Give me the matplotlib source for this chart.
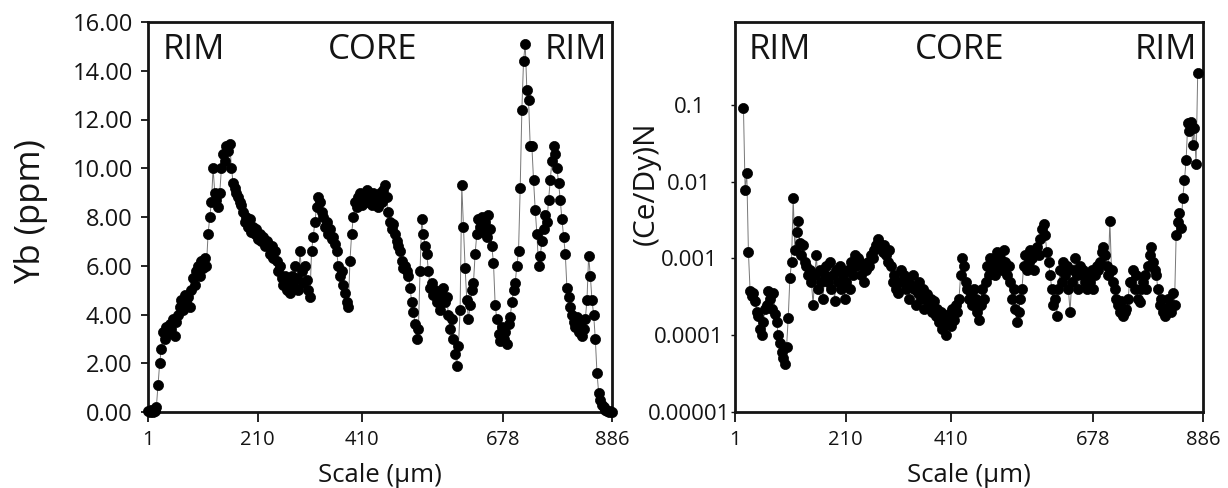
import numpy as np
import matplotlib
matplotlib.use("Agg")
import matplotlib.pyplot as plt
from matplotlib.ticker import FixedLocator, FixedFormatter, NullLocator

plt.rcParams['font.family'] = ['Open Sans', 'DejaVu Sans']

# ---------------- data ----------------
x_ticks = [1, 210, 410, 678, 886]
x_ticklabels = ['1', '210', '410', '678', '886']

yb_ticks = [0, 2, 4, 6, 8, 10, 12, 14, 16]
yb_ticklabels = ['0.00', '2.00', '4.00', '6.00', '8.00', '10.00', '12.00', '14.00', '16.00']

ratio_ticks = [1e-5, 1e-4, 1e-3, 1e-2, 1e-1]
ratio_ticklabels = ['0.00001', '0.0001', '0.001', '0.01', '0.1']

zone_labels = ['RIM', 'CORE', 'RIM']

# Yb (ppm) along the traverse (evenly spaced spots, 1 -> 886 um)
yb_start_um, yb_end_um = 1, 886
yb = [
    0.05, 0.0, 0.08, 0.0, 0.05, 0.2,
    1.1, 2.0, 2.6,
    3.3, 3.0, 3.5, 3.2, 3.6, 3.4, 3.8, 3.1, 3.7,
    4.0, 4.3, 4.6, 4.2, 4.8, 4.5, 4.7, 4.3,
    5.0, 5.5, 5.2, 5.8, 6.0, 5.6, 6.2, 5.9, 6.3,
    6.0, 7.3, 8.0, 8.6,
    10.0, 9.0, 8.7, 8.4, 9.0,
    10.0, 10.6, 10.3, 10.9, 10.7, 11.0,
    10.0, 9.4, 9.2, 9.0, 8.8, 8.6,
    8.5, 8.2, 7.8, 8.0, 7.6, 7.9, 7.4, 7.6, 7.3,
    7.5, 7.1, 7.3, 7.0, 7.2, 6.8, 7.0,
    6.9, 6.5, 6.8, 6.3, 6.6, 6.2,
    5.8, 6.0, 5.5, 5.2, 5.6, 5.0, 5.4, 4.9,
    5.6, 5.2, 6.0, 5.5, 5.0, 6.6, 5.8, 5.3, 6.0, 5.4, 5.0, 4.7,
    6.6, 7.2, 7.8, 8.4, 8.8, 8.6, 8.2,
    8.0, 7.6, 7.8, 7.3, 7.5, 7.1, 7.2, 6.9,
    6.6, 6.0, 5.6, 5.8, 5.2, 4.9, 4.5, 4.3,
    6.2, 7.3, 8.0,
    8.6, 8.4, 8.8, 9.0, 8.5, 8.9, 8.7, 9.1, 8.6, 8.9, 8.5, 9.0, 8.7, 8.8, 8.4, 9.0, 8.6, 9.1, 9.3,
    8.8, 8.2, 7.8, 7.5, 7.7, 7.3, 7.0, 6.8, 6.6,
    6.2, 5.9, 6.0, 5.8, 5.6,
    5.1, 4.5, 4.1, 3.6, 3.0, 3.4,
    5.8, 7.9, 7.3, 6.8, 6.5, 5.8,
    5.1, 5.3, 4.8, 5.0, 4.5, 4.6, 4.2, 4.8,
    5.1, 4.5, 4.7, 4.0, 3.4, 3.8, 3.0, 2.4,
    1.9, 2.7, 4.2, 9.3,
    7.6, 5.9, 4.6, 3.8, 4.4, 5.0,
    5.3, 6.5, 7.3, 7.9, 7.6, 8.0, 7.4, 7.8, 7.2, 8.1, 7.5,
    6.8, 6.1, 4.4,
    3.8, 3.2, 2.9, 3.5, 3.0, 3.3, 2.8, 3.6,
    3.9, 4.5, 5.0, 5.3, 6.0, 6.6,
    9.2, 12.4, 14.4, 15.1, 13.2, 12.8,
    10.9, 10.9, 9.5, 8.3, 7.3, 6.0,
    6.4, 7.0, 7.5, 8.1, 7.8, 8.7,
    9.5, 10.3, 10.9, 10.6, 10.0,
    9.4, 8.7, 7.9, 7.2,
    6.5, 5.1, 4.7, 4.3,
    4.0, 3.7, 3.5, 3.9, 3.3, 3.6, 3.1, 3.4, 3.8,
    4.6, 6.4, 5.6, 4.6,
    4.0, 3.0, 1.6, 0.8, 0.5,
    0.3, 0.2, 0.1, 0.05, 0.0, 0.05, 0.0,
]

# (Ce/Dy)N along the traverse (evenly spaced spots, 17 -> 876 um)
ratio_start_um, ratio_end_um = 17, 876
ce_dy = [
    0.09, 0.0078, 0.013, 0.0012, 0.00038,
    0.00032, 0.00036, 0.00028, 0.0002, 0.00018,
    0.00012, 0.0001, 0.00015, 0.00022,
    0.00025, 0.00038, 0.0003, 0.00022, 0.00035, 0.00019,
    0.00015, 0.0001, 0.00008, 0.00006, 0.00005, 0.000042, 0.00007,
    0.00017, 0.00055, 0.0009,
    0.0062, 0.0013, 0.0022, 0.0031, 0.0016, 0.0011,
    0.0015, 0.0009, 0.0008, 0.0006, 0.0007, 0.0005, 0.00025, 0.0006, 0.0011, 0.0004, 0.0007, 0.0005, 0.0003, 0.0006,
    0.0008, 0.0005, 0.0009, 0.0004, 0.0006, 0.00028, 0.0007, 0.0005, 0.0008, 0.0004,
    0.0006, 0.0003, 0.0005, 0.0007, 0.0004, 0.0009, 0.0006, 0.0011, 0.0008, 0.0010,
    0.0009, 0.0006, 0.0008, 0.0005, 0.0007, 0.0009, 0.0008, 0.0011, 0.0010, 0.0013, 0.0015,
    0.0018, 0.0016, 0.0014, 0.0012, 0.0015, 0.0011, 0.0009, 0.0013,
    0.0008, 0.0005, 0.0006, 0.0004, 0.00035, 0.0005, 0.0007, 0.0005,
    0.0006, 0.0004, 0.0005, 0.0003, 0.00045, 0.0006, 0.0004, 0.00025, 0.00035, 0.0005, 0.0003, 0.0004, 0.00022, 0.0003,
    0.00034, 0.00025, 0.0003, 0.0002, 0.00028, 0.00018, 0.00022, 0.00015, 0.0002, 0.00012,
    0.00017, 0.0001, 0.00014, 0.00019, 0.00013, 0.00022, 0.00016, 0.00025, 0.0002, 0.0003,
    0.0006, 0.001, 0.0008, 0.0005,
    0.0004, 0.0003, 0.00035, 0.00025, 0.0004, 0.0003, 0.0002, 0.00016, 0.00025, 0.0004, 0.0003, 0.0005,
    0.0008, 0.0006, 0.001, 0.0007, 0.0009, 0.0006, 0.0012, 0.0008, 0.001, 0.0007, 0.0013, 0.0009, 0.0006, 0.0008,
    0.0005, 0.0003, 0.0004, 0.00022, 0.00015, 0.0002, 0.0003, 0.0004,
    0.0008, 0.0011, 0.0007, 0.0009, 0.0013, 0.0010, 0.0007, 0.0012, 0.0014, 0.0011, 0.0018, 0.0024, 0.0028, 0.0020, 0.0012,
    0.0009, 0.0006, 0.0004, 0.00025, 0.0003, 0.00018, 0.0004, 0.0007, 0.0005,
    0.0009, 0.0006, 0.0008, 0.0004, 0.0002, 0.0005, 0.0007, 0.001, 0.0006, 0.0004, 0.0008, 0.0006,
    0.0007, 0.0005, 0.0004, 0.0006, 0.0005, 0.0007, 0.0004, 0.0006, 0.0008, 0.0007,
    0.0009, 0.0012, 0.0014, 0.0011, 0.0008, 0.0006,
    0.0031, 0.0007, 0.0005,
    0.0004, 0.0003, 0.00025, 0.0002, 0.00028, 0.00018, 0.0002, 0.00022, 0.0003, 0.0005,
    0.0005, 0.0007, 0.0004, 0.0006, 0.0003, 0.00027, 0.0004, 0.0005, 0.0006, 0.0004,
    0.0008, 0.0011, 0.0014, 0.0009, 0.0007, 0.0006,
    0.0004, 0.00025, 0.0003, 0.0002, 0.00018, 0.00022, 0.0003, 0.00025, 0.0002, 0.00035, 0.00025,
    0.002, 0.003, 0.0039,
    0.0025, 0.0062, 0.0104, 0.019,
    0.058, 0.045, 0.06, 0.03, 0.05, 0.017, 0.26,
]

x_yb = np.linspace(yb_start_um, yb_end_um, len(yb))
x_ratio = np.linspace(ratio_start_um, ratio_end_um, len(ce_dy))

# ---------------- figure ----------------
W, H = 1228, 488
INK = '#141414'
fig = plt.figure(figsize=(W / 100, H / 100), dpi=100)
ax1 = fig.add_axes([148 / W, 1 - 412 / H, 464 / W, 390 / H])
ax2 = fig.add_axes([735 / W, 1 - 412 / H, 468 / W, 390 / H])

line_kw = dict(color='#777777', lw=0.7, marker='o', ms=7.3,
               mfc='black', mec='black', mew=0.5, clip_on=False, zorder=3)

ax1.plot(x_yb, yb, **line_kw)
ax2.plot(x_ratio, ce_dy, **line_kw)

for ax in (ax1, ax2):
    ax.set_xlim(1, 886)
    for sp in ax.spines.values():
        sp.set_linewidth(2.0)
        sp.set_color(INK)
    ax.xaxis.set_major_locator(FixedLocator(x_ticks))
    ax.xaxis.set_major_formatter(FixedFormatter(x_ticklabels))
    ax.tick_params(axis='x', direction='out', length=7, width=1.3,
                   pad=6, labelsize=14.5, colors=INK)
    ax.set_xlabel('Scale (\u00b5m)', fontsize=18.5, labelpad=9, color=INK)

ax1.set_ylim(0, 16)
ax1.yaxis.set_major_locator(FixedLocator(yb_ticks))
ax1.yaxis.set_major_formatter(FixedFormatter(yb_ticklabels))
ax1.tick_params(axis='y', direction='out', length=5, width=1.3, pad=6,
                labelsize=17, colors=INK)

ax2.set_yscale('log')
ax2.set_ylim(1e-5, 1.2)
ax2.yaxis.set_major_locator(FixedLocator(ratio_ticks))
ax2.yaxis.set_major_formatter(FixedFormatter(ratio_ticklabels))
ax2.yaxis.set_minor_locator(NullLocator())
ax2.tick_params(axis='y', direction='out', length=3, width=1.0, pad=30,
                labelsize=16, colors=INK)
for lab in ax2.get_yticklabels():
    lab.set_horizontalalignment('center')

fig.text(31 / W, 1 - 212 / H, 'Yb (ppm)', rotation=90, fontsize=25,
         ha='center', va='center', color=INK)
fig.text(646 / W, 1 - 183 / H, '(Ce/Dy)N', rotation=90, fontsize=21.5,
         ha='center', va='center', color=INK)

zone_fs = 25
yz = (412 - 50) / 390
ax1.text(0.032, yz, zone_labels[0], transform=ax1.transAxes, ha='left', va='center', fontsize=zone_fs, color=INK)
ax1.text(0.485, yz, zone_labels[1], transform=ax1.transAxes, ha='center', va='center', fontsize=zone_fs, color=INK)
ax1.text(0.99, yz, zone_labels[2], transform=ax1.transAxes, ha='right', va='center', fontsize=zone_fs, color=INK)
ax2.text(0.03, yz, zone_labels[0], transform=ax2.transAxes, ha='left', va='center', fontsize=zone_fs, color=INK)
ax2.text(0.481, yz, zone_labels[1], transform=ax2.transAxes, ha='center', va='center', fontsize=zone_fs, color=INK)
ax2.text(0.987, yz, zone_labels[2], transform=ax2.transAxes, ha='right', va='center', fontsize=zone_fs, color=INK)

fig.savefig('out.png', dpi=100)
